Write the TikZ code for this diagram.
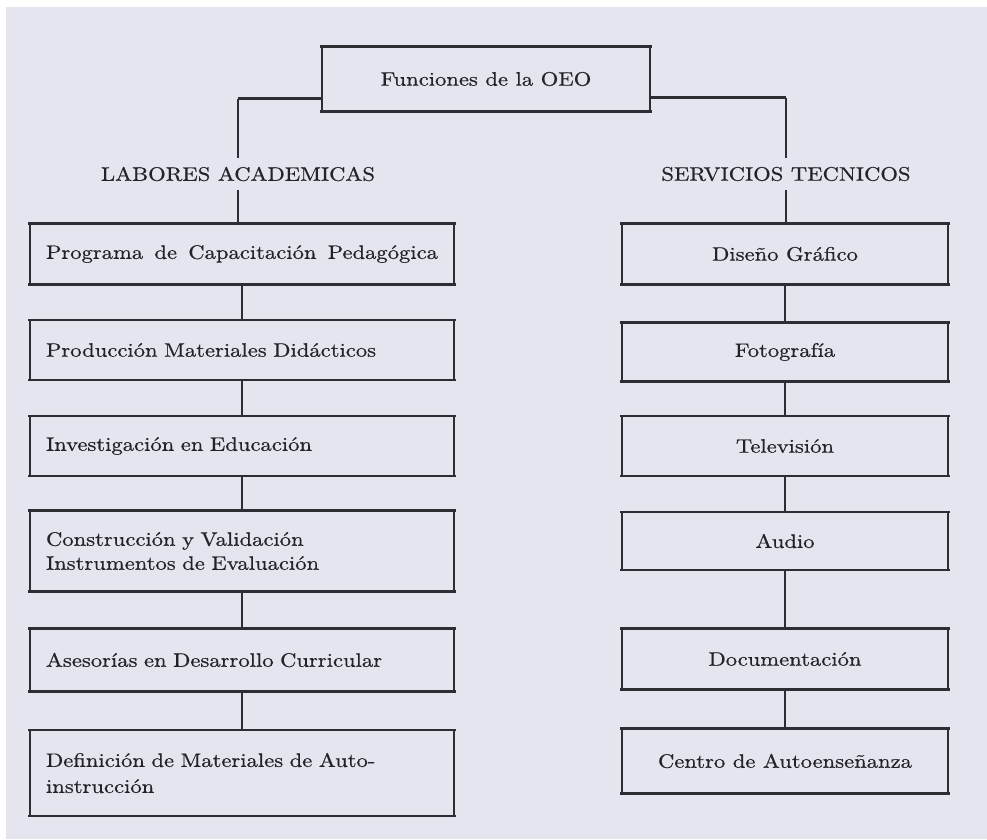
\documentclass[tikz,border=0pt]{standalone}
\usepackage{fontspec}
\setmainfont{lmroman10-regular.otf}[FakeStretch=1.16, FakeBold=0.6]
\definecolor{paper}{RGB}{229,229,239}
\definecolor{ink}{RGB}{45,45,52}
\definecolor{type}{RGB}{35,35,40}
\tikzstyle{every node}=[text=type, font=\fontsize{19.5}{24}\selectfont]
\tikzstyle{box}=[draw=ink, line width=1.1pt, minimum height=59pt,
	append after command={(\tikzlastnode.north west) edge[ink, line width=2.6pt, line cap=rect] (\tikzlastnode.north east)
		(\tikzlastnode.south west) edge[ink, line width=2.6pt, line cap=rect] (\tikzlastnode.south east)}]
\tikzstyle{leftbox}=[box, text width=392pt, inner xsep=16pt, align=left]
\tikzstyle{rightbox}=[box, minimum width=326pt, align=center]
\tikzstyle{heading}=[inner ysep=9pt]
\tikzstyle{link}=[draw=ink, line width=1.3pt]
\tikzstyle{linktop}=[draw=ink, line width=2.2pt]

\begin{document}
\begin{tikzpicture}[x=1pt, y=-1pt]
	\useasboundingbox (0,0) rectangle (987,839);
	\fill[white] (0,0) rectangle (987,839);
	\fill[paper] (6,7) rectangle (987,839);

	\node[box, minimum width=328pt, minimum height=64pt] (oeo) at (486,79) {Funciones de la OEO};
	\node[heading] (labores) at (238,174) {LABORES ACADEMICAS};
	\node[heading] (servicios) at (786,174) {SERVICIOS TECNICOS};

	\node[leftbox, minimum height=60pt] (prog) at (242,254) {Programa \hfill de \hfill Capacitación \hfill Pedagógica};
	\node[leftbox] (prod) at (242,350) {Producción Materiales Didácticos};
	\node[leftbox] (inv) at (242,446) {Investigación en Educación};
	\node[leftbox, minimum height=80pt] (cons) at (242,551) {Construcción y Validación\\Instrumentos de Evaluación};
	\node[leftbox, minimum height=62pt] (ases) at (242,660) {Asesorías en Desarrollo Curricular};
	\node[leftbox, minimum height=85pt] (def) at (242,773) {Definición de Materiales de Auto-\\[2pt]instrucción};

	\node[rightbox, minimum height=60pt] (dis) at (785,254) {Diseño Gráfico};
	\node[rightbox, minimum height=58pt] (foto) at (785,352) {Fotografía};
	\node[rightbox] (tv) at (785,446) {Televisión};
	\node[rightbox, minimum height=57pt] (audio) at (785,541) {Audio};
	\node[rightbox, minimum height=60pt] (doc) at (785,659) {Documentación};
	\node[rightbox, minimum height=64pt] (cae) at (785,761) {Centro de Autoenseñanza};

	\coordinate (oeol) at ([yshift=13pt]oeo.south west);
	\coordinate (oeor) at ([yshift=14pt]oeo.south east);
	\draw[linktop] (oeol) -- (oeol -| labores.north);
	\draw[linktop] (oeor) -- (oeor -| servicios.north);
	\draw[link] (oeol -| labores.north) -- (labores.north);
	\draw[link] (oeor -| servicios.north) -- (servicios.north);
	\draw[link] (labores.south) -- (labores.south |- prog.north);
	\draw[link] (servicios.south) -- (servicios.south |- dis.north);

	\foreach \a/\b in {prog/prod, prod/inv, inv/cons, cons/ases, ases/def,
		dis/foto, foto/tv, tv/audio, audio/doc, doc/cae}
		\draw[link] (\a) -- (\b);
\end{tikzpicture}
\end{document}
